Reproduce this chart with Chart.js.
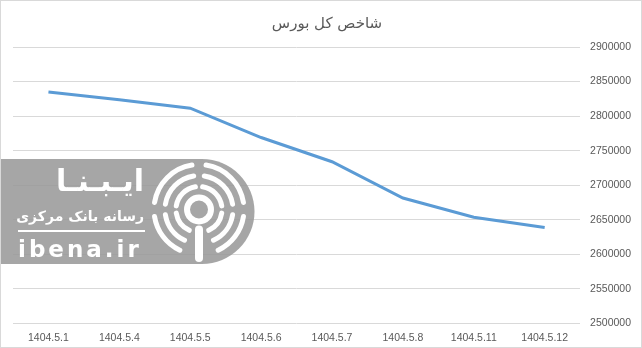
<!DOCTYPE html>
<html>
<head>
<meta charset="utf-8">
<script src="https://cdn.jsdelivr.net/npm/chart.js@4/dist/chart.umd.min.js"></script>
<style>
  html, body { margin: 0; padding: 0; background: #fff; }
  #wrap { position: relative; width: 640px; height: 346px; border: 1px solid #d9d9d9; }
  canvas { display: block; }
</style>
</head>
<body>
<div id="wrap"><canvas id="c" width="640" height="346"></canvas></div>
<script>
const categories = ["1404.5.1", "1404.5.4", "1404.5.5", "1404.5.6", "1404.5.7", "1404.5.8", "1404.5.11", "1404.5.12"];
const indexValues = [2835000, 2823500, 2811500, 2769000, 2734000, 2681500, 2653700, 2638700];
const chartTitle = "شاخص کل بورس";
const yMin = 2500000;
const yMax = 2900000;
const yStep = 50000;

const tickFont = { family: '"Liberation Sans", sans-serif', size: 10.5 };

const watermark = {
  id: 'watermark',
  afterDraw(chart) {
    const ctx = chart.ctx;
    ctx.save();
    const top = 158, bottom = 263, cx = 201, cy = 210.5, r = (bottom - top) / 2;
    ctx.fillStyle = 'rgba(150,150,150,0.85)';
    ctx.beginPath();
    ctx.moveTo(-2, top);
    ctx.lineTo(cx, top);
    ctx.arc(cx, cy, r, -Math.PI / 2, Math.PI / 2);
    ctx.lineTo(-2, bottom);
    ctx.closePath();
    ctx.fill();
    // icon
    const ix = cx - 3, iy = cy + 1;
    ctx.strokeStyle = '#fff';
    ctx.fillStyle = '#fff';
    ctx.lineCap = 'round';
    ctx.lineWidth = 6;
    ctx.beginPath(); ctx.arc(ix, iy - 3, 12, 0, Math.PI * 2); ctx.stroke();
    ctx.lineWidth = 8;
    ctx.beginPath(); ctx.moveTo(ix, iy + 17); ctx.lineTo(ix, bottom - 6); ctx.stroke();
    ctx.lineWidth = 5;
    const radii = [23, 34, 45];
    radii.forEach((rr) => {
      const segs = [[0.64, 0.95], [1.05, 1.45], [1.55, 1.95], [2.05, 2.36]];
      segs.forEach(s => {
        ctx.beginPath();
        ctx.arc(ix, iy - 3, rr, s[0] * Math.PI, s[1] * Math.PI);
        ctx.stroke();
      });
    });
    // text
    ctx.textBaseline = 'alphabetic';
    ctx.direction = 'rtl';
    ctx.textAlign = 'right';
    ctx.font = 'bold 30px "DejaVu Sans"';
    ctx.fillText('ایـبـنـا', 143, 190);
    ctx.font = 'bold 14px "DejaVu Sans"';
    ctx.fillText('رسانه بانک مرکزی', 143, 220);
    ctx.direction = 'ltr';
    ctx.fillRect(17, 229, 127, 2);
    ctx.textAlign = 'left';
    ctx.font = 'bold 23px "DejaVu Sans"';
    if ('letterSpacing' in ctx) ctx.letterSpacing = '3px';
    ctx.fillText('ibena.ir', 17, 256);
    ctx.restore();
  }
};

new Chart(document.getElementById('c'), {
  type: 'line',
  data: {
    labels: categories,
    datasets: [{
      data: indexValues,
      borderColor: '#5B9BD5',
      backgroundColor: '#5B9BD5',
      borderWidth: 3,
      pointRadius: 0,
      tension: 0,
      fill: false
    }]
  },
  options: {
    responsive: false,
    animation: false,
    layout: { padding: { left: 12, right: 0, top: 0, bottom: 3 } },
    plugins: {
      legend: { display: false },
      tooltip: { enabled: false },
      title: {
        display: true,
        text: chartTitle,
        color: '#595959',
        font: { family: '"DejaVu Sans"', size: 15, weight: 'normal' },
        padding: { top: 14, bottom: 14 }
      }
    },
    scales: {
      x: {
        offset: true,
        grid: { display: false },
        border: { display: false },
        ticks: { color: '#595959', font: tickFont, padding: 0, maxRotation: 0 }
      },
      y: {
        position: 'right',
        min: yMin,
        max: yMax,
        ticks: {
          stepSize: yStep, color: '#595959', font: tickFont, padding: 10,
          callback: (v) => String(v)
        },
        grid: { color: '#d9d9d9', lineWidth: 1, drawTicks: false },
        border: { display: false }
      }
    }
  },
  plugins: [watermark]
});
</script>
</body>
</html>
